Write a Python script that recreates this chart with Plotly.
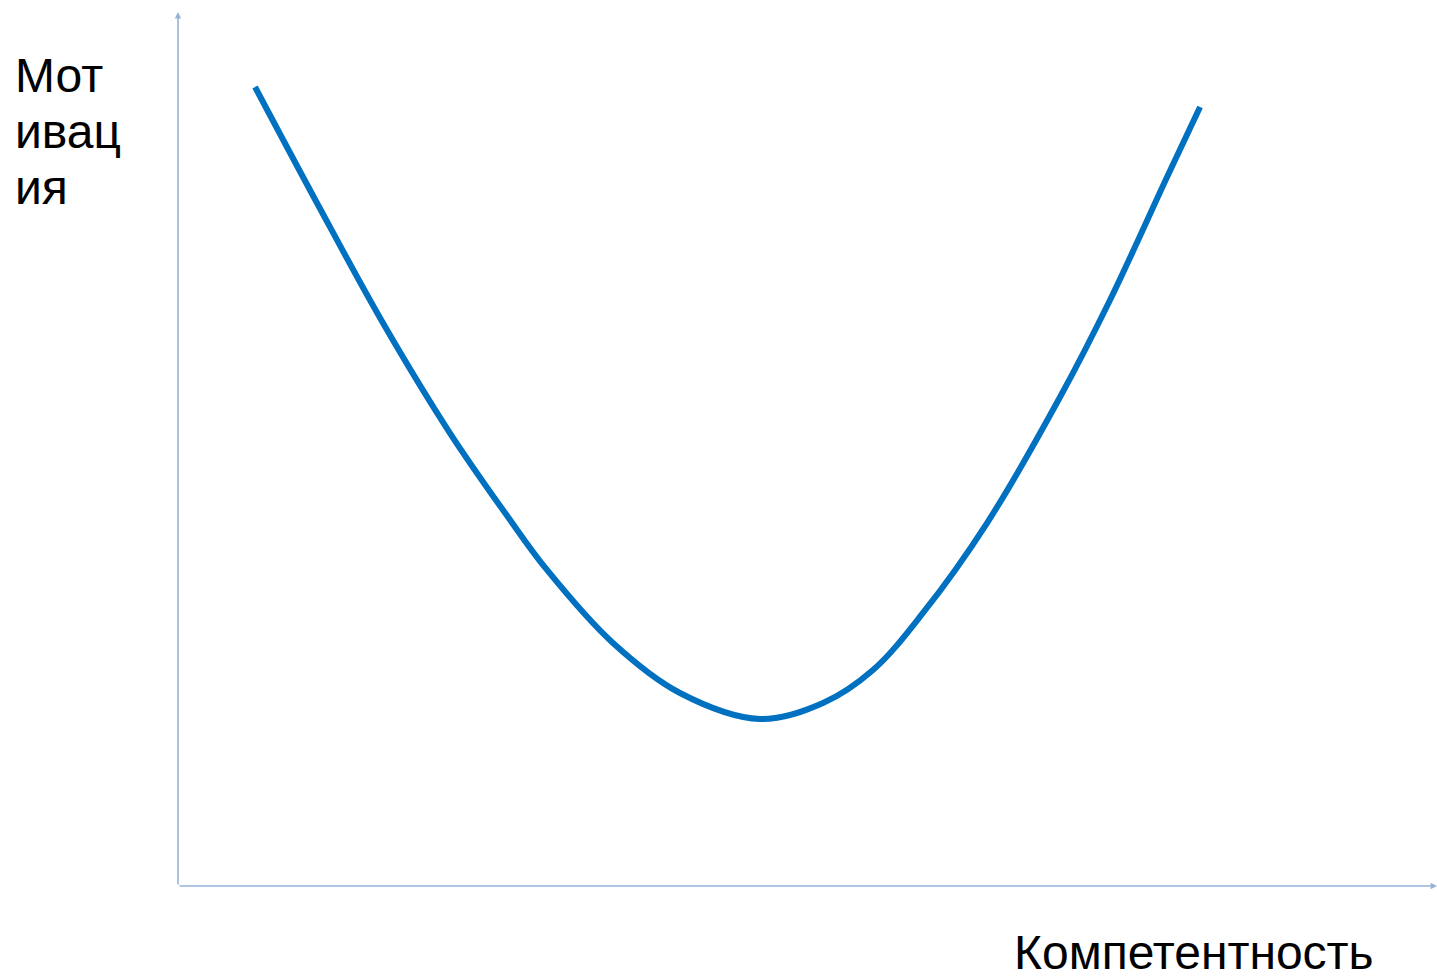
import plotly.graph_objects as go

# Curve points (competence vs motivation) (0-100 scale)
competence = [6.12, 11.04, 16.28, 21.60, 26.21, 29.31, 34.55, 39.87, 46.23,
              51.23, 55.20, 59.17, 64.26, 70.06, 74.03, 78.56, 81.18]
motivation = [91.42, 78.15, 64.42, 51.83, 42.22, 36.16, 27.80, 22.08, 19.11,
              20.94, 24.71, 31.24, 41.53, 55.95, 67.05, 81.12, 89.13]

y_label_lines = ["Мот", "ивац", "ия"]
x_label = "Компетентность"

axis_color = "#95B3D7"
line_color = "#0070C0"
font_family = "Liberation Sans, Arial, sans-serif"

fig = go.Figure()
fig.add_trace(go.Scatter(
    x=competence, y=motivation, mode="lines",
    line=dict(color=line_color, width=6, shape="spline", smoothing=1.0),
    hoverinfo="skip", showlegend=False,
))

plot_left, plot_right = 178, 1437
plot_top, plot_bottom = 12, 886


def px_to_paper_x(px):
    return (px - plot_left) / (plot_right - plot_left)


def px_to_paper_y(py):
    return (plot_bottom - py) / (plot_bottom - plot_top)


annotations = []
# Axis arrows
annotations.append(dict(x=0, y=100, ax=0, ay=0, xref="x", yref="y", axref="x", ayref="y",
                        showarrow=True, arrowhead=2, arrowsize=0.8, arrowwidth=1.6,
                        arrowcolor=axis_color, text=""))
annotations.append(dict(x=100, y=0, ax=0, ay=0, xref="x", yref="y", axref="x", ayref="y",
                        showarrow=True, arrowhead=2, arrowsize=0.8, arrowwidth=1.6,
                        arrowcolor=axis_color, text=""))
# Y label lines
y_label_centers = [75.5, 131.5, 187.5]
for t, cy in zip(y_label_lines, y_label_centers):
    annotations.append(dict(x=px_to_paper_x(13), y=px_to_paper_y(cy), xref="paper", yref="paper",
                            xanchor="left", yanchor="middle", showarrow=False, text=t,
                            font=dict(family=font_family, size=48, color="black")))
# X label
annotations.append(dict(x=px_to_paper_x(1012), y=px_to_paper_y(952), xref="paper", yref="paper",
                        xanchor="left", yanchor="middle", showarrow=False, text=x_label,
                        font=dict(family=font_family, size=48, color="black")))

fig.update_layout(
    width=1437, height=976,
    margin=dict(l=plot_left, r=0, t=plot_top, b=976 - plot_bottom),
    paper_bgcolor="white", plot_bgcolor="white",
    xaxis=dict(range=[0, 100], visible=False, fixedrange=True),
    yaxis=dict(range=[0, 100], visible=False, fixedrange=True),
    annotations=annotations,
    showlegend=False,
)

fig.write_html(
    "out.html",
    config={"displayModeBar": False},
    post_script="document.body.style.margin='0';document.body.style.overflow='hidden';",
)
